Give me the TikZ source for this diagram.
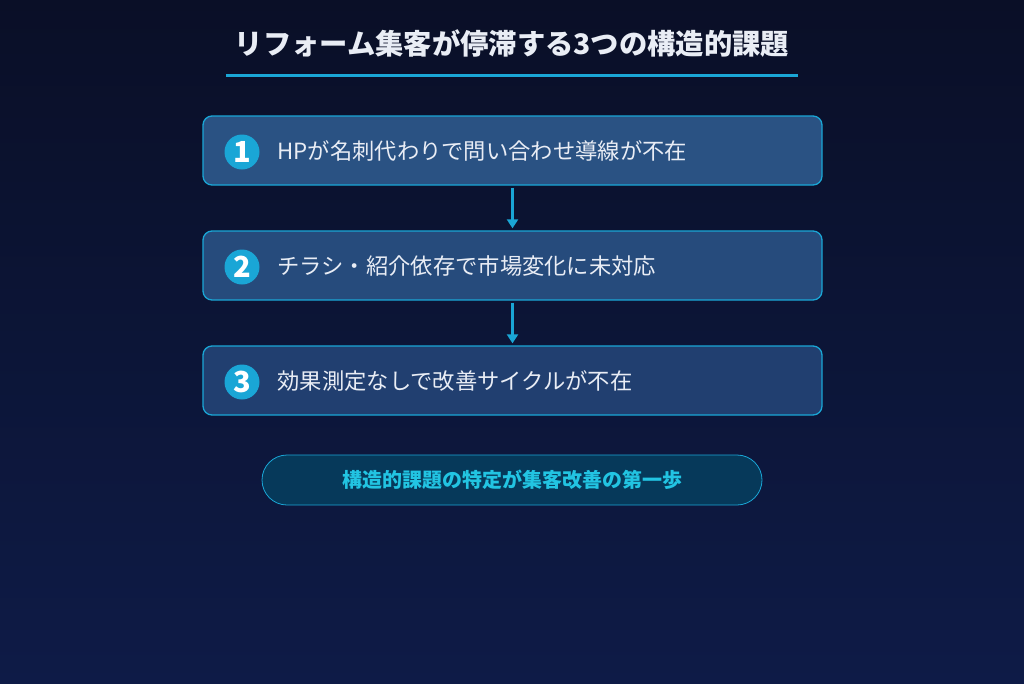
\documentclass[tikz,border=0pt]{standalone}
\usepackage{fontspec}
\setmainfont{Noto Sans CJK JP}
\usetikzlibrary{arrows.meta,positioning}
\definecolor{bgtop}{HTML}{0A0F27}
\definecolor{bgbot}{HTML}{0E1B47}
\definecolor{cyanline}{HTML}{1AA6D6}
\definecolor{boxa}{HTML}{2A5283}
\definecolor{boxb}{HTML}{264B7C}
\definecolor{boxc}{HTML}{213F70}
\definecolor{pillfill}{HTML}{06395A}
\definecolor{pilltext}{HTML}{22C4E2}
\definecolor{titletext}{HTML}{E9EDF5}
\tikzset{issue/.style={rectangle,rounded corners=9pt,draw=cyanline,line width=1.3pt,minimum width=619pt,minimum height=69pt},
  num/.style={circle,fill=cyanline,minimum size=35pt,inner sep=0pt,text=white,font=\bfseries\fontsize{29}{29}\selectfont},
  lbl/.style={anchor=west,text=titletext,font=\fontsize{22.3}{26}\selectfont},
  arr/.style={-{Triangle[length=9pt,width=11pt]},draw=cyanline,line width=2.2pt}}

\begin{document}
\begin{tikzpicture}[x=1pt,y=-1pt]
    \useasboundingbox (0,0) rectangle (1024,683);
    \shade[top color=bgtop,bottom color=bgbot] (0,0) rectangle (1024,683);

    \node[text=titletext,font=\bfseries\fontsize{28.3}{32}\selectfont] (title) at (512,44) {リフォーム集客が停滞する3つの構造的課題};
    \coordinate (ul) at (226,75);
    \coordinate (ur) at (798,75);
    \draw[cyanline,line width=3pt] (ul) -- (ur);

    \node[issue,fill=boxa] (b1) at (512.5,150.5) {};
    \node[issue,fill=boxb] (b2) at (512.5,265.5) {};
    \node[issue,fill=boxc] (b3) at (512.5,380.5) {};

    \node[num] (n1) at (242,152) {1};
    \node[num] (n2) at (242,267) {2};
    \node[num] (n3) at (242,382) {3};

    \node[lbl] (t1) at (274,151) {HPが名刺代わりで問い合わせ導線が不在};
    \node[lbl] (t2) at (274,266) {チラシ・紹介依存で市場変化に未対応};
    \node[lbl] (t3) at (274,381) {効果測定なしで改善サイクルが不在};

    \draw[arr,shorten <=2pt,shorten >=2pt] (b1) -- (b2);
    \draw[arr,shorten <=2pt,shorten >=2pt] (b2) -- (b3);

    \node[rectangle,rounded corners=25pt,draw=cyanline,line width=0.8pt,fill=pillfill,minimum width=500pt,minimum height=50pt,text=pilltext,font=\bfseries\fontsize{20}{24}\selectfont] (goal) at (512,480) {構造的課題の特定が集客改善の第一歩};
\end{tikzpicture}
\end{document}
